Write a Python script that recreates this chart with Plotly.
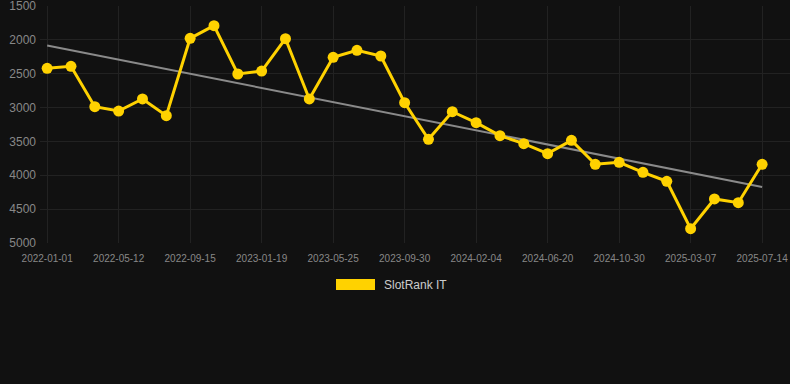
import numpy as np
import plotly.graph_objects as go

tick_labels = ["2022-01-01", "2022-05-12", "2022-09-15", "2023-01-19", "2023-05-25",
               "2023-09-30", "2024-02-04", "2024-06-20", "2024-10-30", "2025-03-07", "2025-07-14"]
values = [2420, 2390, 2987, 3051, 2873, 3120, 1977, 1790, 2504, 2460, 1983,
          2873, 2258, 2155, 2238, 2928, 3469, 3061, 3223, 3415, 3533, 3681,
          3484, 3838, 3809, 3956, 4089, 4789, 4350, 4405, 3838]
y_ticks = [1500, 2000, 2500, 3000, 3500, 4000, 4500, 5000]
series_name = "SlotRank IT"

idx = np.arange(len(values))
coef = np.polyfit(idx, values, 1)
trend = np.polyval(coef, idx)

tickvals = list(range(0, len(values), 3))

fig = go.Figure()
fig.add_trace(go.Scatter(x=idx, y=trend, mode="lines",
                         line=dict(color="#8a8a8a", width=2), hoverinfo="skip", showlegend=False))
fig.add_trace(go.Scatter(x=idx, y=values, mode="lines+markers", name=series_name,
                         line=dict(color="#FFD200", width=3),
                         marker=dict(color="#FFD200", size=11), showlegend=False))

fig.add_shape(type="rect", xref="paper", yref="paper",
              x0=(336 - 40) / 750, x1=(375 - 40) / 750,
              y0=(243 - 290) / 237, y1=(243 - 279) / 237,
              fillcolor="#FFD200", line=dict(width=0))
fig.add_annotation(xref="paper", yref="paper", x=(382 - 40) / 750, y=(243 - 285) / 237,
                   text=series_name, showarrow=False, xanchor="left", yanchor="middle",
                   font=dict(family="Liberation Sans, Arial, sans-serif", size=12, color="#cccccc"))

fig.update_layout(
    width=790, height=384,
    margin=dict(l=40, r=0, t=6, b=141),
    paper_bgcolor="#111111", plot_bgcolor="#111111",
    font=dict(family="Liberation Sans, Arial, sans-serif", color="#888888"),
    xaxis=dict(range=[-0.3, 31.17], tickmode="array", tickvals=tickvals, ticktext=tick_labels,
               showgrid=True, gridcolor="#222222", zeroline=False, showline=False,
               tickfont=dict(size=10, color="#888888"), ticks="", ticklabelstandoff=8,
               ticklabeloverflow="allow"),
    yaxis=dict(range=[5000.5, 1499.5], tickmode="array", tickvals=y_ticks,
               showgrid=True, gridcolor="#222222", zeroline=False, showline=False,
               tickfont=dict(size=12, color="#888888"), ticks="", ticklabelstandoff=3,
               ticklabeloverflow="allow"),
    showlegend=False,
)

fig.write_html("out.html", config={"displayModeBar": False})
with open("out.html", encoding="utf-8") as f:
    html = f.read()
html = html.replace("<head>", "<head><style>html,body{margin:0;padding:0;background:#111111;overflow:hidden;}</style>", 1)
with open("out.html", "w", encoding="utf-8") as f:
    f.write(html)
